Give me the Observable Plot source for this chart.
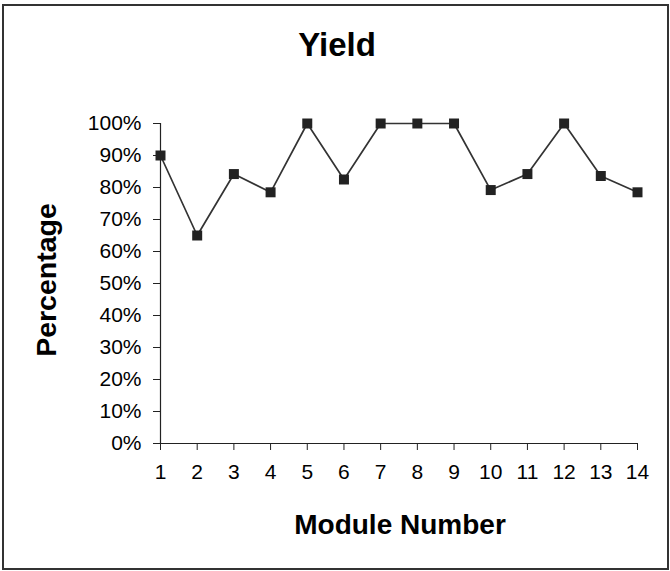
<!DOCTYPE html>
<html>
<head>
<meta charset="utf-8">
<script src="https://cdn.jsdelivr.net/npm/d3@7"></script>
<script src="https://cdn.jsdelivr.net/npm/@observablehq/plot@0.6"></script>
<style>
  html, body { margin: 0; padding: 0; background: #fff; }
  #wrap { position: relative; width: 670px; height: 571px; overflow: hidden; font-family: "Liberation Sans", Arial, sans-serif; }
  #border { position: absolute; left: 2px; top: 4px; width: 667px; height: 566px; box-sizing: border-box; border: 2px solid #333; }
  .t { position: absolute; font-weight: bold; color: #000; white-space: nowrap; line-height: 1; }
  #title { left: 337px; top: 28px; font-size: 33px; transform: translateX(-50%); }
  #xlabel { left: 400px; top: 511px; font-size: 28px; transform: translateX(-50%); }
  #ylabel { left: 46px; top: 280px; font-size: 28.5px; transform: translate(-50%, -50%) rotate(-90deg); }
  #chart { position: absolute; left: 0; top: 0; }
</style>
</head>
<body>
<div id="wrap">
  <div id="chart"></div>
  <div id="border"></div>
  <div class="t" id="title">Yield</div>
  <div class="t" id="xlabel">Module Number</div>
  <div class="t" id="ylabel">Percentage</div>
</div>
<script>
const modules = [1, 2, 3, 4, 5, 6, 7, 8, 9, 10, 11, 12, 13, 14];
const yieldValues = [0.90, 0.65, 0.842, 0.785, 1.0, 0.825, 1.0, 1.0, 1.0, 0.792, 0.842, 1.0, 0.836, 0.785];
const yTicks = [0, 0.1, 0.2, 0.3, 0.4, 0.5, 0.6, 0.7, 0.8, 0.9, 1.0];

const data = modules.map((m, i) => ({module: m, value: yieldValues[i]}));

const chart = Plot.plot({
  width: 670,
  height: 571,
  marginLeft: 160,
  marginRight: 33,
  marginTop: 123,
  marginBottom: 128,
  style: {fontFamily: "'Liberation Sans', Arial, sans-serif", fontSize: "21px", color: "#000", background: "transparent"},
  x: {type: "linear", domain: [1, 14], label: null},
  y: {domain: [0, 1], label: null},
  marks: [
    Plot.axisX({ticks: modules, tickSize: 7, tickPadding: 14, tickFormat: d => String(d), label: null, stroke: "#222", fontSize: 21}),
    Plot.axisY({ticks: yTicks, tickSize: 7, tickPadding: 12, tickFormat: d3.format(".0%"), label: null, stroke: "#222", fontSize: 21}),
    Plot.ruleX([1], {stroke: "#222", strokeWidth: 1.2}),
    Plot.ruleY([0], {stroke: "#222", strokeWidth: 1.2}),
    Plot.line(data, {x: "module", y: "value", stroke: "#333", strokeWidth: 1.7}),
    Plot.dot(data, {x: "module", y: "value", symbol: "square", r: 5.64, fill: "#222", stroke: "none"})
  ]
});
document.getElementById("chart").appendChild(chart);
</script>
</body>
</html>
